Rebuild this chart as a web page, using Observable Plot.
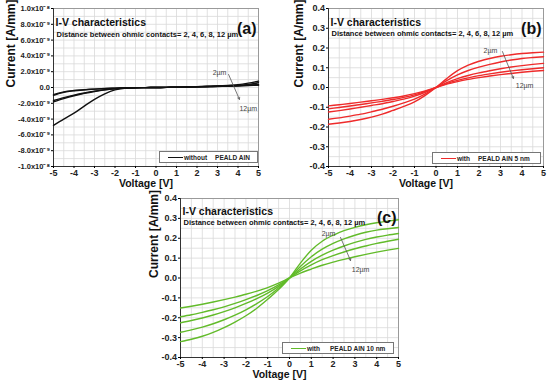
<!DOCTYPE html>
<html><head><meta charset="utf-8">
<script src="https://cdn.jsdelivr.net/npm/d3@7"></script>
<script src="https://cdn.jsdelivr.net/npm/@observablehq/plot@0.6"></script>
<style>
body{margin:0;background:#fff;font-family:"Liberation Sans",Arial,sans-serif;}
#wrap{position:relative;width:550px;height:385px;background:#fff;overflow:hidden}
.panel{position:absolute}
.legend{position:absolute;border:1px solid #777;background:#fff;display:flex;align-items:center;font-size:6.5px;font-weight:bold;color:#222;box-sizing:border-box;white-space:nowrap}
.legend .ln{display:inline-block;width:15px;height:0;border-top:1.5px solid;margin:0 1px 0 8px}
</style></head><body>
<div id="wrap"></div>
<script>
// ---- data ----
const voltage = [-5,-4.5,-4,-3.5,-3,-2.5,-2,-1.5,-1,-0.5,0,0.5,1,1.5,2,2.5,3,3.5,4,4.5,5];
const contacts = ["2 µm","4 µm","6 µm","8 µm","12 µm"];
const xTicks = [-5,-4,-3,-2,-1,0,1,2,3,4,5];
const xGrid = [-5,-4.5,-4,-3.5,-3,-2.5,-2,-1.5,-1,-0.5,0,0.5,1,1.5,2,2.5,3,3.5,4,4.5,5];

// (a) without PEALD AlN, current in units of 1e-9 A/mm
const a2  = [-4.8,-4.0,-3.25,-2.35,-1.5,-0.8,-0.3,-0.1,-0.03,-0.01,0,0.02,0.05,0.08,0.11,0.15,0.2,0.27,0.36,0.55,0.8];
const a4  = [-1.8,-1.4,-1.05,-0.75,-0.5,-0.3,-0.17,-0.08,-0.03,-0.01,0,0.02,0.04,0.07,0.1,0.13,0.17,0.21,0.26,0.3,0.35];
const a6  = [-1.65,-1.28,-0.96,-0.69,-0.46,-0.28,-0.16,-0.07,-0.03,-0.01,0,0.02,0.04,0.06,0.09,0.12,0.15,0.19,0.24,0.4,0.6];
const a8  = [-1.0,-0.62,-0.42,-0.3,-0.21,-0.14,-0.09,-0.05,-0.02,-0.01,0,0.02,0.04,0.06,0.08,0.11,0.14,0.17,0.22,0.28,0.33];
const a12 = [-0.9,-0.55,-0.38,-0.28,-0.2,-0.13,-0.08,-0.05,-0.02,-0.01,0,0.02,0.04,0.06,0.08,0.1,0.13,0.16,0.2,0.25,0.3];
const aYTicks = [-10,-8,-6,-4,-2,0,2,4,6,8,10];
const aYGrid = [-10,-9,-8,-7,-6,-5,-4,-3,-2,-1,0,1,2,3,4,5,6,7,8,9,10];
const aYLabels = ["-1.0x10⁻⁸","-8.0x10⁻⁹","-6.0x10⁻⁹","-4.0x10⁻⁹","-2.0x10⁻⁹","0.0","2.0x10⁻⁹","4.0x10⁻⁹","6.0x10⁻⁹","8.0x10⁻⁹","1.0x10⁻⁸"];

// (b) with PEALD AlN 5 nm, A/mm
const b2  = [-0.186,-0.18,-0.172,-0.162,-0.15,-0.135,-0.116,-0.096,-0.073,-0.04,0,0.045,0.085,0.113,0.133,0.147,0.158,0.166,0.172,0.176,0.179];
const b4  = [-0.161,-0.154,-0.145,-0.135,-0.123,-0.11,-0.095,-0.078,-0.059,-0.032,0,0.035,0.064,0.086,0.103,0.117,0.129,0.139,0.147,0.152,0.156];
const b6  = [-0.124,-0.117,-0.109,-0.1,-0.091,-0.082,-0.071,-0.059,-0.044,-0.024,0,0.025,0.045,0.061,0.074,0.085,0.095,0.104,0.111,0.117,0.122];
const b8  = [-0.108,-0.101,-0.094,-0.086,-0.078,-0.07,-0.061,-0.05,-0.037,-0.02,0,0.02,0.036,0.049,0.06,0.069,0.077,0.084,0.09,0.095,0.1];
const b12 = [-0.093,-0.087,-0.081,-0.074,-0.067,-0.06,-0.052,-0.043,-0.031,-0.017,0,0.017,0.03,0.041,0.05,0.058,0.065,0.071,0.077,0.082,0.086];

// (c) with PEALD AlN 10 nm, A/mm
const c2  = [-0.32,-0.308,-0.293,-0.274,-0.25,-0.222,-0.19,-0.152,-0.107,-0.058,0,0.075,0.14,0.185,0.215,0.238,0.255,0.268,0.278,0.286,0.293];
const c4  = [-0.273,-0.261,-0.247,-0.23,-0.21,-0.187,-0.16,-0.129,-0.093,-0.05,0,0.058,0.107,0.145,0.174,0.197,0.215,0.23,0.241,0.248,0.254];
const c6  = [-0.225,-0.214,-0.201,-0.186,-0.169,-0.15,-0.128,-0.104,-0.076,-0.042,0,0.045,0.084,0.115,0.14,0.161,0.179,0.194,0.206,0.216,0.224];
const c8  = [-0.195,-0.185,-0.173,-0.16,-0.145,-0.128,-0.109,-0.088,-0.064,-0.035,0,0.036,0.066,0.092,0.113,0.131,0.147,0.161,0.174,0.185,0.195];
const c12 = [-0.151,-0.142,-0.132,-0.121,-0.109,-0.096,-0.082,-0.066,-0.048,-0.026,0,0.025,0.045,0.064,0.08,0.094,0.107,0.119,0.13,0.14,0.149];

const bcYTicks = [-0.4,-0.3,-0.2,-0.1,0,0.1,0.2,0.3,0.4];
const bcYGrid = [-0.4,-0.35,-0.3,-0.25,-0.2,-0.15,-0.1,-0.05,0,0.05,0.1,0.15,0.2,0.25,0.3,0.35,0.4];

// annotation anchors (data coordinates)
const annA = {t1:[3.1,1.9], a:[3.54,1.65,4.07,-1.5], t2:[4.5,-2.66]};
const annB = {t1:[2.53,0.187], a:[3.09,0.182,3.6,0.046], t2:[4.12,0.01]};
const annC = {t1:[1.79,0.224], a:[2.34,0.204,2.8,0.088], t2:[3.26,0.043]};

const title = "I-V characteristics";
const subtitle = "Distance between ohmic contacts= 2, 4, 6, 8, 12 µm";
const FONT = "'Liberation Sans', Arial, sans-serif";

function rows(series) {
  return series.flatMap((vals, k) => vals.map((I, i) => ({V: voltage[i], I, d: contacts[k]})));
}

function panel(o) {
  const wrap = document.getElementById("wrap");
  const yDom = [o.yTicks[0], o.yTicks[o.yTicks.length - 1]];
  const data = rows(o.series);
  const p = Plot.plot({
    width: o.width, height: o.height,
    marginLeft: o.m[0], marginRight: o.m[1], marginTop: o.m[2], marginBottom: o.m[3],
    x: {domain: [-5, 5]},
    y: {domain: yDom},
    style: {fontFamily: FONT, background: "transparent", overflow: "visible"},
    marks: [
      Plot.gridX(xGrid, {stroke: "#d9d9d9", strokeOpacity: 1, strokeWidth: 0.8}),
      Plot.gridY(o.yGrid, {stroke: "#d9d9d9", strokeOpacity: 1, strokeWidth: 0.8}),
      Plot.frame({stroke: "#9a9a9a", strokeWidth: 1}),
      Plot.ruleX([-5], {stroke: "#333", strokeWidth: 1}),
      Plot.ruleY([yDom[0]], {stroke: "#333", strokeWidth: 1}),
      Plot.axisX({ticks: xTicks, label: null, tickSize: 2, tickPadding: 1, fontSize: 9, fontWeight: "bold", fill: "#222",
        tickFormat: d => d < 0 ? "-" + Math.abs(d) : String(d)}),
      Plot.axisY({ticks: o.yTicks, label: null, tickSize: 2, tickPadding: 1.5, fontSize: o.yFont, fontWeight: "bold", fill: "#222",
        tickFormat: o.yFormat}),
      Plot.line(data, {x: "V", y: "I", z: "d", stroke: o.color, strokeWidth: 1.4, curve: "monotone-x"}),
      Plot.text([title], {text: d => d, frameAnchor: "top-left", textAnchor: "start", dx: 2, dy: o.tdy[0], fontSize: 10.5, fontWeight: "bold", fill: "#111"}),
      Plot.text([subtitle], {text: d => d, frameAnchor: "top-left", textAnchor: "start", dx: 3, dy: o.tdy[1], fontSize: 7.5, fontWeight: "bold", fill: "#111"}),
      Plot.text([o.tag], {text: d => d, frameAnchor: "top-right", textAnchor: "end", dx: -2, dy: o.tdy[2], fontSize: 16, fontWeight: "bold", fill: "#111"}),
      Plot.text(["Current [A/mm]"], {text: d => d, frameAnchor: "left", dx: o.ylab, rotate: -90, fontSize: 12, fontWeight: "bold", fill: "#111"}),
      Plot.text(["Voltage [V]"], {text: d => d, frameAnchor: "bottom", dx: -10, dy: o.xlab, fontSize: 10.5, fontWeight: "bold", fill: "#111"}),
      Plot.arrow([o.ann.a], {x1: d => d[0], y1: d => d[1], x2: d => d[2], y2: d => d[3], stroke: "#555", strokeWidth: 0.8, headLength: 4}),
      Plot.text([o.ann.t1], {x: d => d[0], y: d => d[1], text: () => "2µm", fontSize: 7, fill: "#444"}),
      Plot.text([o.ann.t2], {x: d => d[0], y: d => d[1], text: () => "12µm", fontSize: 7, fill: "#444"})
    ]
  });
  p.classList.add("panel");
  p.style.left = o.left + "px";
  p.style.top = o.top + "px";
  wrap.appendChild(p);

  const lg = document.createElement("div");
  lg.className = "legend";
  Object.assign(lg.style, {left: o.lg[0] + "px", top: o.lg[1] + "px", width: o.lg[2] + "px", height: o.lg[3] + "px"});
  lg.innerHTML = `<span class="ln" style="border-color:${o.color}"></span><span style="margin-right:${o.gap}px">${o.leg1}</span><span>${o.leg2}</span>`;
  wrap.appendChild(lg);
}

panel({left: 0, top: 0, width: 275, height: 190, m: [53, 17, 8, 24],
  series: [a2, a4, a6, a8, a12], color: "#111", yTicks: aYTicks, yGrid: aYGrid, yFont: 7.5,
  yFormat: d => aYLabels[aYTicks.indexOf(d)], tag: "(a)", tdy: [10, 23, 14], ylab: -42, xlab: 20, ann: annA,
  lg: [159, 151, 99, 12], leg1: "without", leg2: "PEALD AlN", gap: 8});

panel({left: 275, top: 0, width: 275, height: 190, m: [53, 7, 8, 24],
  series: [b2, b4, b6, b8, b12], color: "#ee2b2b", yTicks: bcYTicks, yGrid: bcYGrid, yFont: 9,
  yFormat: d => d.toFixed(1), tag: "(b)", tdy: [10, 22, 14], ylab: -29, xlab: 20, ann: annB,
  lg: [432, 152, 109, 12], leg1: "with", leg2: "PEALD AlN 5 nm", gap: 8});

panel({left: 100, top: 190, width: 350, height: 195, m: [80, 52, 8, 28],
  series: [c2, c4, c6, c8, c12], color: "#62bb2a", yTicks: bcYTicks, yGrid: bcYGrid, yFont: 9,
  yFormat: d => d.toFixed(1), tag: "(c)", tdy: [9, 21, 13], ylab: -26, xlab: 20, ann: annC,
  lg: [282, 342, 112, 12], leg1: "with", leg2: "PEALD AlN 10 nm", gap: 10});
</script>
</body></html>
